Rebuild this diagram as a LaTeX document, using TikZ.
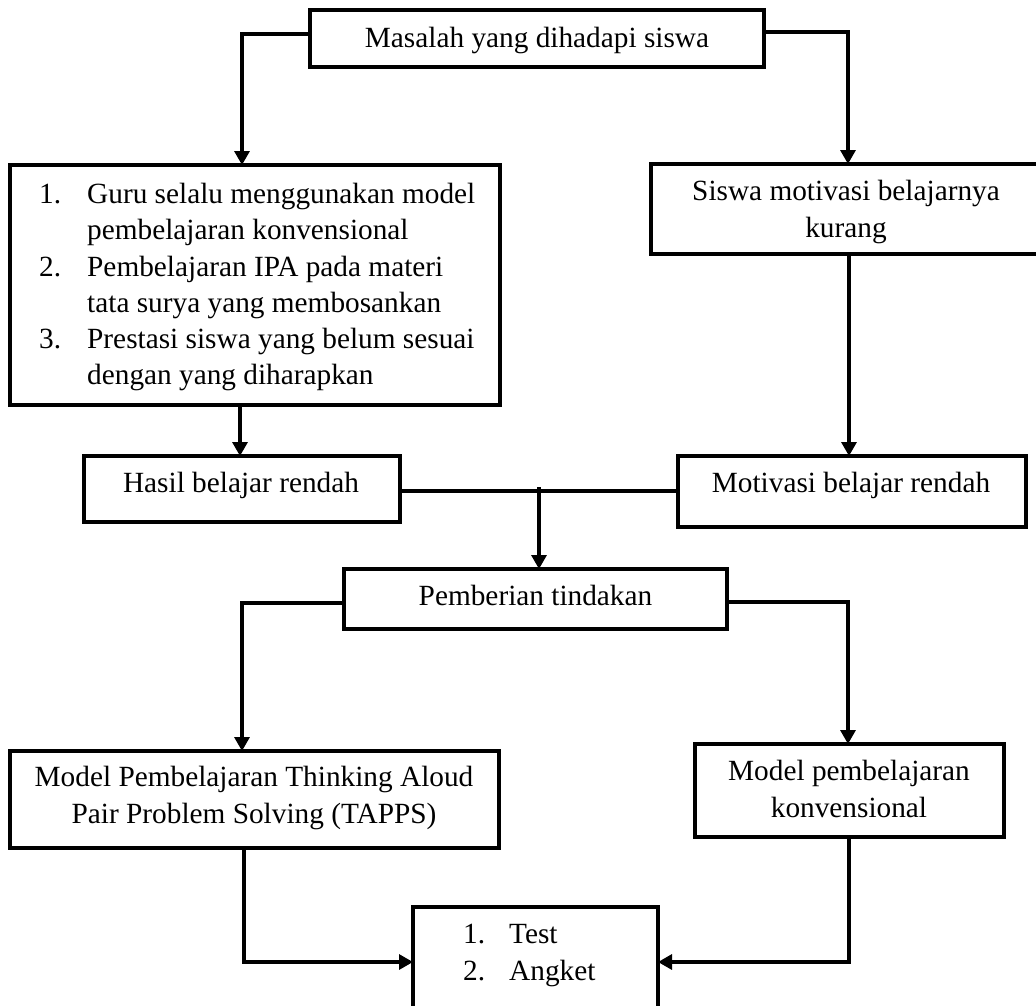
\documentclass[tikz,border=0pt]{standalone}
\usepackage{fontspec}
\setmainfont{Liberation Serif}
\usetikzlibrary{arrows.meta}
\begin{document}
\begin{tikzpicture}[x=1pt,y=-1pt,
  box/.style={draw,line width=3.6pt,inner sep=0pt,outer sep=0pt},
  conn/.style={line width=3.2pt},
  arr/.style={conn,-{Triangle[width=15pt,length=14pt]}},
  txt/.style={anchor=base,inner sep=0pt,font=\fontsize{29.3}{36}\selectfont},
  txtl/.style={txt,anchor=base west}]
\useasboundingbox (0,0) rectangle (1036,1005);
\clip (0,0) rectangle (1036,1005);

% boxes
\node[box,minimum width=454pt,minimum height=57pt] (masalah) at (537,38.5) {};
\node[box,minimum width=490pt,minimum height=240pt] (list) at (255,285) {};
\node[box,minimum width=394pt,minimum height=90pt] (siswa) at (848,209) {};
\node[box,minimum width=316pt,minimum height=66pt] (hasil) at (242,489) {};
\node[box,minimum width=348pt,minimum height=71pt] (motivasi) at (852,491.5) {};
\node[box,minimum width=383pt,minimum height=60pt] (pemberian) at (535.5,599) {};
\node[box,minimum width=489pt,minimum height=97pt] (tapps) at (254.5,799.5) {};
\node[box,minimum width=309pt,minimum height=93pt] (konv) at (849.5,790.5) {};
\node[box,minimum width=245pt,minimum height=113pt] (eval) at (535.5,963.5) {};

% texts
\node[txt] (t1) at (537,47) {Masalah yang dihadapi siswa};
\node[txtl] (l1n) at (39,203) {1.};
\node[txtl] (l1a) at (87,203) {Guru selalu menggunakan model};
\node[txtl] (l1b) at (87,239) {pembelajaran konvensional};
\node[txtl] (l2n) at (39,276) {2.};
\node[txtl] (l2a) at (87,276) {Pembelajaran IPA pada materi};
\node[txtl] (l2b) at (87,312) {tata surya yang membosankan};
\node[txtl] (l3n) at (39,348) {3.};
\node[txtl] (l3a) at (87,348) {Prestasi siswa yang belum sesuai};
\node[txtl] (l3b) at (87,384) {dengan yang diharapkan};
\node[txt] (s1) at (846,200) {Siswa motivasi belajarnya};
\node[txt] (s2) at (846,237) {kurang};
\node[txt] (h1) at (241,492) {Hasil belajar rendah};
\node[txt] (m1) at (851,492) {Motivasi belajar rendah};
\node[txt] (p1) at (535.5,605) {Pemberian tindakan};
\node[txt] (ta1) at (254,786) {Model Pembelajaran Thinking Aloud};
\node[txt] (ta2) at (254,823) {Pair Problem Solving (TAPPS)};
\node[txt] (k1) at (849,780) {Model pembelajaran};
\node[txt] (k2) at (849,817) {konvensional};
\node[txtl] (e1n) at (463,943) {1.};
\node[txtl] (e1) at (509,943) {Test};
\node[txtl] (e2n) at (463,980) {2.};
\node[txtl] (e2) at (509,980) {Angket};

% connectors
\coordinate (c1) at (242,34);
\draw[arr] (masalah.west |- c1) -- (c1) -- (c1 |- list.north);
\coordinate (c2) at (848,32);
\draw[arr] (masalah.east |- c2) -- (c2) -- (c2 |- siswa.north);
\coordinate (c3) at (240,420);
\draw[arr] (c3 |- list.south) -- (c3 |- hasil.north);
\coordinate (c4) at (849,300);
\draw[arr] (c4 |- siswa.south) -- (c4 |- motivasi.north);
\coordinate (c5) at (540,491);
\draw[conn] (hasil.east |- c5) -- (motivasi.west |- c5);
\coordinate (d) at (539,487);
\draw[arr] (d) -- (d |- pemberian.north);
\coordinate (c6) at (242,603);
\draw[arr] (pemberian.west |- c6) -- (c6) -- (c6 |- tapps.north);
\coordinate (c7) at (848,602);
\draw[arr] (pemberian.east |- c7) -- (c7) -- (c7 |- konv.north);
\coordinate (c8) at (244,962);
\draw[arr] (c8 |- tapps.south) -- (c8) -- (eval.west |- c8);
\coordinate (c9) at (849,962);
\draw[arr] (c9 |- konv.south) -- (c9) -- (eval.east |- c9);
\end{tikzpicture}
\end{document}
